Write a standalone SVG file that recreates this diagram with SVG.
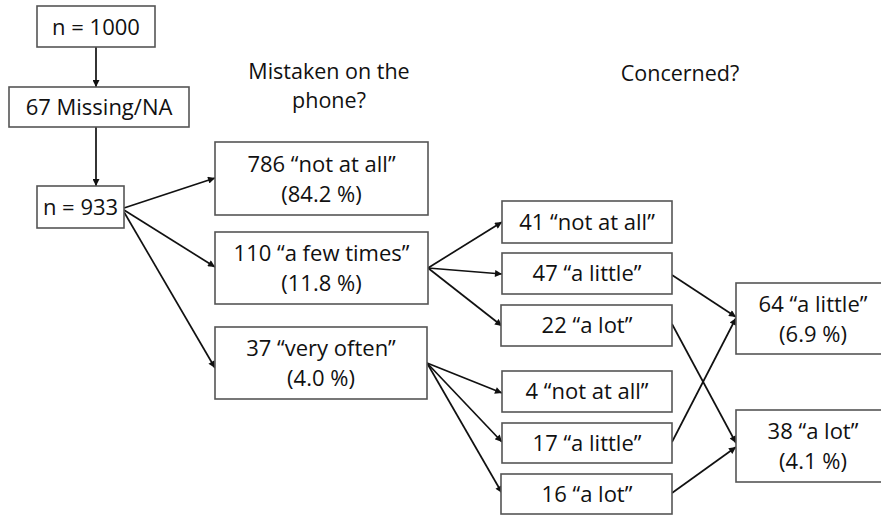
<svg xmlns="http://www.w3.org/2000/svg" width="881" height="516" viewBox="0 0 881 516">
<defs>
<marker id="ah" viewBox="0 0 10 10" refX="10" refY="5" markerWidth="9" markerHeight="7" markerUnits="userSpaceOnUse" orient="auto">
<path d="M0,0 L10,5 L0,10 z" fill="#111"/>
</marker>
<style>
.box{fill:#fff;stroke:#555;stroke-width:1.6}
.t{font-family:"Open Sans","Liberation Sans",sans-serif;font-size:22px;fill:#111;text-anchor:middle}
.h{font-size:21.5px}
.c{stroke:#111;stroke-width:1.7;fill:none;marker-end:url(#ah)}
</style>
</defs>
<rect width="881" height="516" fill="#fff"/>
<g id="headers">
<text class="t h" x="329" y="79">Mistaken on the</text>
<text class="t h" x="329" y="108">phone?</text>
<text class="t h" x="680" y="81">Concerned?</text>
</g>
<g id="connectors">
<line class="c" x1="96" y1="47" x2="96" y2="87"/>
<line class="c" x1="96" y1="127" x2="96" y2="186"/>
<line class="c" x1="124" y1="208" x2="215" y2="178"/>
<line class="c" x1="124" y1="210" x2="215" y2="267"/>
<line class="c" x1="124" y1="212" x2="215" y2="368"/>
<line class="c" x1="428" y1="268" x2="502" y2="222"/>
<line class="c" x1="428" y1="268" x2="502" y2="274"/>
<line class="c" x1="428" y1="268" x2="502" y2="326"/>
<line class="c" x1="427" y1="363" x2="502" y2="393"/>
<line class="c" x1="427" y1="363" x2="502" y2="442"/>
<line class="c" x1="427" y1="363" x2="502" y2="493"/>
<line class="c" x1="672" y1="275" x2="736" y2="317"/>
<line class="c" x1="672" y1="442" x2="736" y2="318"/>
<line class="c" x1="672" y1="324" x2="736" y2="443"/>
<line class="c" x1="672" y1="493" x2="736" y2="447"/>
</g>
<g id="n1000"><rect class="box" x="37" y="6" width="118" height="41"/><text class="t" x="96" y="34.5">n  = 1000</text></g>
<g id="missing"><rect class="box" x="9" y="87" width="180" height="40"/><text class="t" x="99" y="114.5">67 Missing/NA</text></g>
<g id="n933"><rect class="box" x="37" y="186" width="87" height="42"/><text class="t" x="80.5" y="214.5">n = 933</text></g>
<g id="notatall786"><rect class="box" x="215" y="142" width="213" height="73"/><text class="t" x="321.5" y="171.5">786 “not at all”</text><text class="t" x="321.5" y="201.5">(84.2 %)</text></g>
<g id="fewtimes110"><rect class="box" x="215" y="232" width="213" height="72"/><text class="t" x="321.5" y="261">110 “a few times”</text><text class="t" x="321.5" y="291">(11.8 %)</text></g>
<g id="veryoften37"><rect class="box" x="215" y="327" width="212" height="72"/><text class="t" x="321" y="356">37 “very often”</text><text class="t" x="321" y="386">(4.0 %)</text></g>
<g id="notatall41"><rect class="box" x="502" y="201" width="170" height="42"/><text class="t" x="587" y="229.5">41 “not at all”</text></g>
<g id="alittle47"><rect class="box" x="502" y="253" width="170" height="41"/><text class="t" x="587" y="281">47 “a little”</text></g>
<g id="alot22"><rect class="box" x="501" y="305" width="171" height="41"/><text class="t" x="587" y="333">22 “a lot”</text></g>
<g id="notatall4"><rect class="box" x="502" y="371" width="170" height="41"/><text class="t" x="587" y="399">4 “not at all”</text></g>
<g id="alittle17"><rect class="box" x="502" y="423" width="170" height="40"/><text class="t" x="587" y="450.5">17 “a little”</text></g>
<g id="alot16"><rect class="box" x="501" y="474" width="171" height="40"/><text class="t" x="587" y="501.5">16 “a lot”</text></g>
<g id="alittle64"><rect class="box" x="736" y="283" width="150" height="71"/><text class="t" x="813" y="311.5">64 “a little”</text><text class="t" x="813" y="341.5">(6.9 %)</text></g>
<g id="alot38"><rect class="box" x="736" y="410" width="150" height="72"/><text class="t" x="813" y="439">38 “a lot”</text><text class="t" x="813" y="469">(4.1 %)</text></g>
</svg>
